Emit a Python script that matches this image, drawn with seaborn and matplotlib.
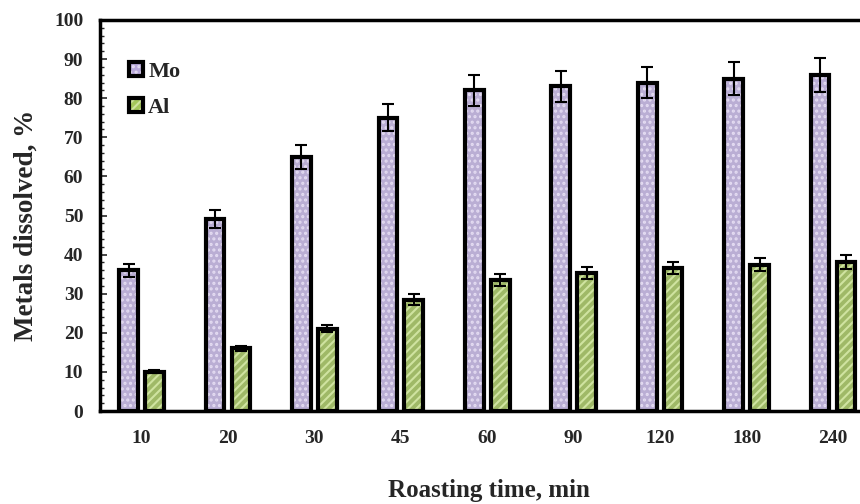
import matplotlib
matplotlib.use("Agg")
import matplotlib.pyplot as plt
import seaborn as sns
import pandas as pd
import numpy as np
from matplotlib.patches import Rectangle
from matplotlib.ticker import MultipleLocator
from matplotlib.colors import to_rgba

times = ["10", "20", "30", "45", "60", "90", "120", "180", "240"]
mo = [36, 49, 65, 75, 82, 83, 84, 85, 86]
al = [10, 16, 21, 28.5, 33.5, 35.3, 36.6, 37.4, 38]
mo_err = [1.7, 2.3, 3.0, 3.5, 4.0, 4.0, 4.0, 4.2, 4.3]
al_err = [0.4, 0.6, 0.9, 1.3, 1.5, 1.6, 1.6, 1.7, 1.8]
metals = ["Mo", "Al"]

sns.set_theme(style="white")
plt.rcParams["font.family"] = ["Liberation Serif", "DejaVu Serif"]
plt.rcParams["font.weight"] = "bold"
plt.rcParams["hatch.linewidth"] = 1.5

df = pd.DataFrame({
    "time": times * 2,
    "value": mo + al,
    "metal": ["Mo"] * len(times) + ["Al"] * len(times),
})

fig = plt.figure(figsize=(8.6, 5.04), dpi=100)
ax = fig.add_axes([100 / 860, 93 / 504, 778 / 860, 391 / 504])

colors = {"Mo": "#B8A8DA", "Al": "#A4C65A"}
hatch_colors = {"Mo": "#E4DCF2", "Al": "#CFE3A0"}
hatches = {"Mo": "...", "Al": "////"}


def set_hatch_color(p, c):
    if hasattr(p, "set_hatchcolor"):
        p.set_hatchcolor(c)
    else:
        p._hatch_color = to_rgba(c)


sns.barplot(data=df, x="time", y="value", hue="metal", order=times,
            hue_order=metals, palette=colors, width=0.6, gap=0.28,
            ax=ax, errorbar=None, legend=False)

errs = {"Mo": mo_err, "Al": al_err}
vals = {"Mo": mo, "Al": al}
for cont, m in zip(ax.containers, metals):
    xs = []
    for p in cont.patches:
        p.set_hatch(hatches[m])
        p.set_edgecolor(hatch_colors[m])
        p.set_linewidth(0)
        set_hatch_color(p, hatch_colors[m])
        ax.add_patch(Rectangle(p.get_xy(), p.get_width(), p.get_height(),
                               fill=False, ec="black", lw=3, zorder=3))
        xs.append(p.get_x() + p.get_width() / 2)
    ax.errorbar(xs, vals[m], yerr=errs[m], fmt="none", ecolor="black",
                elinewidth=1.5, capsize=4, capthick=1.5, zorder=4)

ax.set_xlim(-0.48, 8.52)
ax.set_ylim(0, 100)
ax.yaxis.set_major_locator(MultipleLocator(10))
ax.yaxis.set_minor_locator(MultipleLocator(2))
ax.tick_params(axis="y", which="major", direction="in", length=5, width=1.2,
               left=True, labelsize=14, pad=12)
ax.tick_params(axis="y", which="minor", direction="in", length=3, width=1,
               left=True)
ax.tick_params(axis="x", length=0, labelsize=14, pad=14)
for lab in ax.get_xticklabels() + ax.get_yticklabels():
    lab.set_fontweight("bold")

for s in ["left", "bottom", "top"]:
    ax.spines[s].set_visible(True)
    ax.spines[s].set_color("black")
    ax.spines[s].set_linewidth(2.5)
ax.spines["right"].set_visible(False)

ax.set_xlabel("Roasting time, min", fontsize=18, fontweight="bold", labelpad=23)
ax.set_ylabel("Metals dissolved, %", fontsize=19.5, fontweight="bold")
ax.yaxis.set_label_coords(-0.079, 0.475)

handles = []
for m in metals:
    r = Rectangle((0, 0), 1, 1, fc=colors[m], ec="black", lw=3, hatch=hatches[m])
    handles.append(r)
leg = ax.legend(handles, metals, loc="upper left", bbox_to_anchor=(0.012, 0.945),
                frameon=False, prop={"weight": "bold", "size": 16},
                handlelength=0.6, handleheight=0.6, handletextpad=0.25,
                labelspacing=0.75)
for h, m in zip(leg.legend_handles, metals):
    set_hatch_color(h, hatch_colors[m])

fig.savefig("out.png", dpi=100)
